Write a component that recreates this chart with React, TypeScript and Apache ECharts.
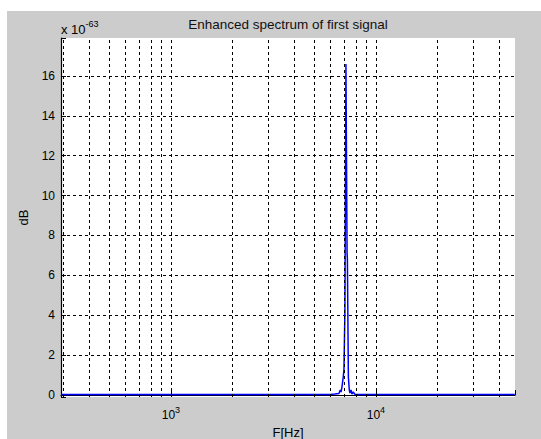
import React, { useEffect, useRef } from "react";
import * as echarts from "echarts";

const frequencies = [291, 1000, 3000, 5000, 6000, 6300, 6600, 6700, 6760, 6830, 6930, 6985, 7063, 7142, 7235, 7260, 7340, 7410, 7470, 7560, 7640, 7750, 7900, 8170, 10000, 47600];
const magnitudes = [0.02, 0.02, 0.02, 0.02, 0.03, 0.05, 0.08, 0.25, 0.15, 0.4, 0.9, 1.3, 4.3, 16.6, 7.1, 6.8, 0.9, 0.3, 0.1, 0.25, 0.05, 0.15, 0.03, 0.02, 0.02, 0.02];
const verticalGridFreqs = [300, 400, 500, 600, 700, 800, 900, 1000, 2000, 3000, 4000, 5000, 6000, 7000, 8000, 9000, 10000, 20000, 30000, 40000];
const xRange = [291, 47700];
const yRange = [-0.1, 17.9];
const titleText = "Enhanced spectrum of first signal";
const yName = "dB";
const xName = "F[Hz]";
const exponentLabel = "-63";

const FONT = "'Liberation Sans', Arial, sans-serif";

export default function App() {
  const ref = useRef<HTMLDivElement>(null);
  useEffect(() => {
    if (!ref.current) return;
    const chart = echarts.init(ref.current, undefined, { renderer: "svg" });
    const data = frequencies.map((f, i) => [f, magnitudes[i]]);
    chart.setOption({
      animation: false,
      backgroundColor: "#cccccc",
      textStyle: { fontFamily: FONT },
      grid: {
        left: 54,
        right: 26,
        top: 27,
        bottom: 42,
        show: true,
        backgroundColor: "#ffffff",
        borderWidth: 0,
        containLabel: false,
        outerBoundsMode: "none",
      },
      xAxis: {
        type: "log",
        logBase: 10,
        min: xRange[0],
        max: xRange[1],
        name: xName,
        nameLocation: "middle",
        nameGap: 27,
        nameTextStyle: { fontSize: 13, color: "#000", fontFamily: FONT, lineHeight: 13 },
        axisLine: { show: true, lineStyle: { color: "#000", width: 1.2 } },
        axisTick: { show: true, inside: true, length: 5, lineStyle: { color: "#000" } },
        splitLine: { show: false },
        minorTick: { show: false },
        axisLabel: {
          margin: 8,
          color: "#000",
          formatter: (v: number) => {
            const l = Math.log10(v);
            if (Math.abs(l - Math.round(l)) < 1e-6) {
              return "{b|10}{s|" + Math.round(l) + "}";
            }
            return "";
          },
          rich: {
            b: { fontSize: 12, fontFamily: FONT, color: "#000", lineHeight: 16, verticalAlign: "bottom" },
            s: { fontSize: 9, fontFamily: FONT, color: "#000", lineHeight: 13, verticalAlign: "top" },
          },
        },
      },
      yAxis: {
        type: "value",
        min: yRange[0],
        max: yRange[1],
        splitNumber: 9,
        name: yName,
        nameLocation: "middle",
        nameGap: 31,
        nameRotate: 90,
        nameTextStyle: { fontSize: 13, color: "#000", fontFamily: FONT },
        axisLine: { show: true, lineStyle: { color: "#000", width: 1.2 } },
        axisTick: { show: true, inside: true, length: 5, lineStyle: { color: "#000" } },
        axisLabel: {
          margin: 6,
          fontSize: 12,
          color: "#000",
          fontFamily: FONT,
          formatter: (v: number) => {
            const r = Math.round(v / 2) * 2;
            return Math.abs(v - r) < 1e-6 ? String(r) : "";
          },
        },
        splitLine: {
          show: true,
          showMinLine: false,
          showMaxLine: false,
          lineStyle: { color: "#000", type: [3, 3], width: 1 },
        },
      },
      graphic: [
        {
          type: "text",
          x: 281,
          y: 13,
          style: {
            text: titleText,
            fontSize: 13.5,
            fontFamily: FONT,
            fill: "#111",
            textAlign: "center",
            textVerticalAlign: "middle",
          },
        },
        {
          type: "text",
          x: 54,
          y: 25,
          style: {
            text: "{b|x 10}{s|" + exponentLabel + "}",
            textAlign: "left",
            textVerticalAlign: "bottom",
            rich: {
              b: { fontSize: 13, fontFamily: FONT, fill: "#000", lineHeight: 17, verticalAlign: "bottom" },
              s: { fontSize: 9, fontFamily: FONT, fill: "#000", lineHeight: 10, verticalAlign: "top" },
            },
          },
        },
      ],
      series: [
        {
          type: "line",
          data: [],
          z: 1,
          silent: true,
          markLine: {
            silent: true,
            symbol: ["none", "none"],
            label: { show: false },
            lineStyle: { color: "#000", type: [3, 3], width: 1 },
            data: verticalGridFreqs.map((f) => ({ xAxis: f })),
          },
        },
        {
          type: "line",
          data,
          z: 3,
          showSymbol: false,
          symbol: "none",
          lineStyle: { color: "#0000ff", width: 1.5 },
        },
      ],
    });
    return () => chart.dispose();
  }, []);
  return (
    <div
      ref={ref}
      style={{ position: "absolute", left: 7, top: 11, width: 534, height: 428 }}
    />
  );
}
